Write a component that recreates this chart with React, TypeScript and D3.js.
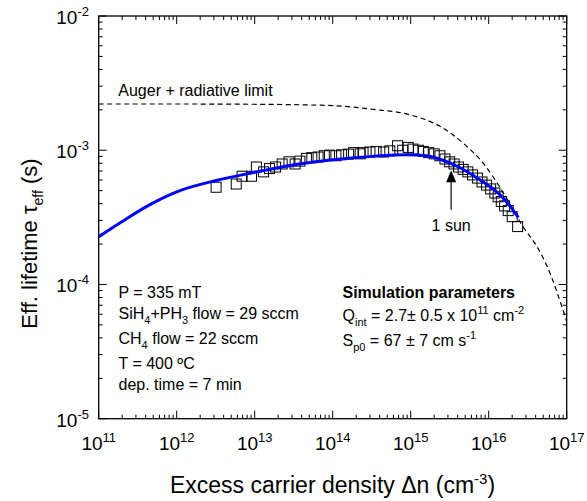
import React from "react";
import * as d3 from "d3";

// ---------- data ----------
const xDomain: [number, number] = [1e11, 1e17];
const yDomain: [number, number] = [1e-5, 1e-2];
const xTickExps = [11, 12, 13, 14, 15, 16, 17];
const yTickExps = [-5, -4, -3, -2];

// measured effective lifetime (open squares)
const measDn = [
  3.2e12, 5.8e12, 6.9e12, 9.1e12, 1.05e13, 1.3e13, 1.55e13, 1.85e13, 2.25e13, 2.75e13,
  3.3e13, 3.8e13, 4.6e13, 5.4e13, 6.5e13, 7.8e13, 9.1e13, 1.1e14, 1.3e14, 1.6e14,
  1.85e14, 2.25e14, 2.45e14, 3.0e14, 3.6e14, 4.5e14, 5.4e14, 6.8e14, 7.9e14, 9.3e14,
  1.07e15, 1.26e15, 1.45e15, 1.7e15, 2.0e15, 2.37e15, 2.75e15, 3.16e15, 3.6e15, 4.1e15,
  4.7e15, 5.4e15, 6.2e15, 7.2e15, 8.2e15, 9.4e15, 1.06e16, 1.2e16, 1.32e16, 1.45e16,
  1.6e16, 1.78e16, 2.0e16, 2.35e16,
];
const measTau = [
  5.3e-4, 5.6e-4, 6.4e-4, 6.4e-4, 7.5e-4, 6.9e-4, 7.3e-4, 7.5e-4, 7.9e-4, 8.2e-4,
  7.9e-4, 8.3e-4, 8.7e-4, 8.8e-4, 8.9e-4, 9.1e-4, 9.2e-4, 9.1e-4, 9.25e-4, 9.35e-4,
  9.6e-4, 9.4e-4, 9.6e-4, 9.7e-4, 9.8e-4, 9.7e-4, 9.9e-4, 1.08e-3, 1.0e-3, 1.05e-3,
  1.02e-3, 1.0e-3, 9.8e-4, 9.6e-4, 9.4e-4, 9.1e-4, 8.6e-4, 8.2e-4, 7.9e-4, 7.5e-4,
  7.2e-4, 6.9e-4, 6.55e-4, 6.2e-4, 5.8e-4, 5.5e-4, 5.15e-4, 4.8e-4, 4.5e-4, 4.15e-4,
  3.85e-4, 3.55e-4, 3.2e-4, 2.7e-4,
];

// simulation (blue line)
const simDn = [1e11, 2.0e11, 4.6e11, 1e12, 3.2e12, 1e13, 3.2e13, 1e14, 3.2e14, 8.9e14, 1.6e15, 2.5e15, 4.3e15, 7.8e15, 1.4e16, 1.9e16, 2.4e16];
const simTau = [2.27e-4, 2.95e-4, 3.95e-4, 4.9e-4, 5.95e-4, 6.85e-4, 7.8e-4, 8.5e-4, 9.0e-4, 9.25e-4, 9.1e-4, 8.5e-4, 7.4e-4, 6.0e-4, 4.65e-4, 3.8e-4, 3.15e-4];

// Auger + radiative limit (dashed)
const limDn = [1e11, 1e12, 1e13, 1e14, 3.2e14, 1e15, 2.4e15, 4.7e15, 8.5e15, 1.55e16, 2.75e16, 4.3e16, 5.5e16, 1e17];
const limTau = [2.21e-3, 2.21e-3, 2.2e-3, 2.15e-3, 2.02e-3, 1.83e-3, 1.5e-3, 1.13e-3, 8.0e-4, 4.8e-4, 2.7e-4, 1.85e-4, 1.4e-4, 5.3e-5];

// "1 sun" arrow
const sunDn = 3.3e15;
const sunTauTip = 7.1e-4;
const sunTauBase = 3.6e-4;

const FONT = "'Liberation Sans', Arial, Helvetica, sans-serif";

type Seg = [string, number]; // 0 normal, 1 sup, -1 sub

function Rich({ segs, x, y, size, small, supShift, subShift, bold, anchor }: any) {
  let cur = 0;
  return (
    <text x={x} y={y} fontSize={size} fontFamily={FONT} fontWeight={bold ? "bold" : "normal"}
      textAnchor={anchor || "start"} style={{ whiteSpace: "pre" }} fill="#000">
      {segs.map((s: Seg, i: number) => {
        const target = s[1] === 1 ? -supShift : s[1] === -1 ? subShift : 0;
        const dy = target - cur;
        cur = target;
        return (
          <tspan key={i} dy={dy} fontSize={s[1] === 0 ? size : small}>{s[0]}</tspan>
        );
      })}
    </text>
  );
}

export default function App() {
  const W = 587, H = 501;
  const L = 98.7, R = 566.7, T = 16, B = 418.7;
  const x = d3.scaleLog().domain(xDomain).range([L, R]);
  const y = d3.scaleLog().domain(yDomain).range([B, T]);

  const majorLen = 8, minorLen = 4;
  const xMinor: number[] = [];
  for (let e = xTickExps[0]; e < xTickExps[xTickExps.length - 1]; e++)
    for (let k = 2; k <= 9; k++) xMinor.push(k * Math.pow(10, e));
  const yMinor: number[] = [];
  for (let e = yTickExps[0]; e < yTickExps[yTickExps.length - 1]; e++)
    for (let k = 2; k <= 9; k++) yMinor.push(k * Math.pow(10, e));

  const line = d3.line<[number, number]>()
    .x((d) => x(d[0]))
    .y((d) => y(d[1]))
    .curve(d3.curveMonotoneX);

  const simPath = line(simDn.map((d, i) => [d, simTau[i]]) as [number, number][]) || "";
  const limPath = line(limDn.map((d, i) => [d, limTau[i]]) as [number, number][]) || "";

  const sq = 10;
  const ax = x(sunDn);
  const tipY = y(sunTauTip);
  const baseY = y(sunTauBase);

  return (
    <svg width={W} height={H} style={{ position: "absolute", left: 0, top: 0, background: "#fff" }}>
      <defs>
        <clipPath id="plotclip">
          <rect x={L} y={T} width={R - L} height={B - T} />
        </clipPath>
      </defs>
      <rect x={0} y={0} width={W} height={H} fill="#fff" />

      {/* ticks */}
      <g stroke="#000" strokeWidth={1}>
        {xTickExps.map((e) => {
          const px = x(Math.pow(10, e));
          return (
            <g key={"xm" + e}>
              <line x1={px} x2={px} y1={B} y2={B - majorLen} />
              <line x1={px} x2={px} y1={T} y2={T + majorLen} />
            </g>
          );
        })}
        {xMinor.map((v, i) => {
          const px = x(v);
          return (
            <g key={"xn" + i}>
              <line x1={px} x2={px} y1={B} y2={B - minorLen} />
              <line x1={px} x2={px} y1={T} y2={T + minorLen} />
            </g>
          );
        })}
        {yTickExps.map((e) => {
          const py = y(Math.pow(10, e));
          return (
            <g key={"ym" + e}>
              <line x1={L} x2={L + majorLen} y1={py} y2={py} />
              <line x1={R} x2={R - majorLen} y1={py} y2={py} />
            </g>
          );
        })}
        {yMinor.map((v, i) => {
          const py = y(v);
          return (
            <g key={"yn" + i}>
              <line x1={L} x2={L + minorLen} y1={py} y2={py} />
              <line x1={R} x2={R - minorLen} y1={py} y2={py} />
            </g>
          );
        })}
      </g>

      {/* frame */}
      <rect x={L} y={T} width={R - L} height={B - T} fill="none" stroke="#000" strokeWidth={1.3} />

      {/* tick labels */}
      {xTickExps.map((e) => (
        <Rich key={"xl" + e} segs={[["10", 0], [String(e), 1]]} x={x(Math.pow(10, e))} y={450}
          size={19} small={13} supShift={8} subShift={0} anchor="middle" />
      ))}
      {yTickExps.map((e) => (
        <Rich key={"yl" + e} segs={[["10", 0], [String(e), 1]]} x={89} y={y(Math.pow(10, e)) + 8}
          size={19} small={13} supShift={8} subShift={0} anchor="end" />
      ))}

      <g clipPath="url(#plotclip)">
        {/* limit */}
        <path d={limPath} fill="none" stroke="#000" strokeWidth={1.2} strokeDasharray="5,3.5" />
        {/* measured */}
        {measDn.map((d, i) => (
          <rect key={"m" + i} x={x(d) - sq / 2} y={y(measTau[i]) - sq / 2} width={sq} height={sq}
            fill="none" stroke="#000" strokeWidth={1} />
        ))}
        {/* simulation */}
        <path d={simPath} fill="none" stroke="#0000ff" strokeWidth={3} />
      </g>

      {/* arrow */}
      <line x1={ax} x2={ax} y1={baseY} y2={tipY + 10} stroke="#000" strokeWidth={1.2} />
      <path d={`M${ax},${tipY} L${ax - 5},${tipY + 12} L${ax + 5},${tipY + 12} Z`} fill="#000" />
      <text x={ax} y={baseY + 21} fontSize={16} fontFamily={FONT} textAnchor="middle">1 sun</text>

      <text x={118.3} y={96} fontSize={16} fontFamily={FONT}>Auger + radiative limit</text>

      {/* left annotations */}
      <Rich segs={[["P = 335 mT", 0]]} x={118.5} y={298} size={16} small={11} supShift={7} subShift={5} />
      <Rich segs={[["SiH", 0], ["4", -1], ["+PH", 0], ["3", -1], [" flow = 29 sccm", 0]]} x={118.5} y={319} size={16} small={11} supShift={7} subShift={5} />
      <Rich segs={[["CH", 0], ["4", -1], [" flow = 22 sccm", 0]]} x={118.5} y={344} size={16} small={11} supShift={7} subShift={5} />
      <Rich segs={[["T = 400 ºC", 0]]} x={118.5} y={369} size={16} small={11} supShift={7} subShift={5} />
      <Rich segs={[["dep. time = 7 min", 0]]} x={118.5} y={390} size={16} small={11} supShift={7} subShift={5} />

      {/* right annotations */}
      <Rich segs={[["Simulation parameters", 0]]} x={342.5} y={298} size={16} small={11} supShift={7} subShift={5} bold />
      <Rich segs={[["Q", 0], ["int", -1], [" = 2.7± 0.5 x 10", 0], ["11", 1], [" cm", 0], ["-2", 1]]} x={342.5} y={321} size={16} small={11} supShift={7} subShift={5} />
      <Rich segs={[["S", 0], ["p0", -1], [" = 67 ± 7 cm s", 0], ["-1", 1]]} x={342.5} y={346} size={16} small={11} supShift={7} subShift={5} />

      {/* axis titles */}
      <Rich segs={[["Excess carrier density Δn (cm", 0], ["-3", 1], [")", 0]]} x={332.5} y={493}
        size={23} small={15} supShift={9} subShift={0} anchor="middle" />
      <g transform="translate(37,243.5) rotate(-90)">
        <Rich segs={[["Eff. lifetime τ", 0], ["eff", -1], [" (s)", 0]]} x={0} y={0}
          size={22} small={14} supShift={0} subShift={6} anchor="middle" />
      </g>
    </svg>
  );
}
